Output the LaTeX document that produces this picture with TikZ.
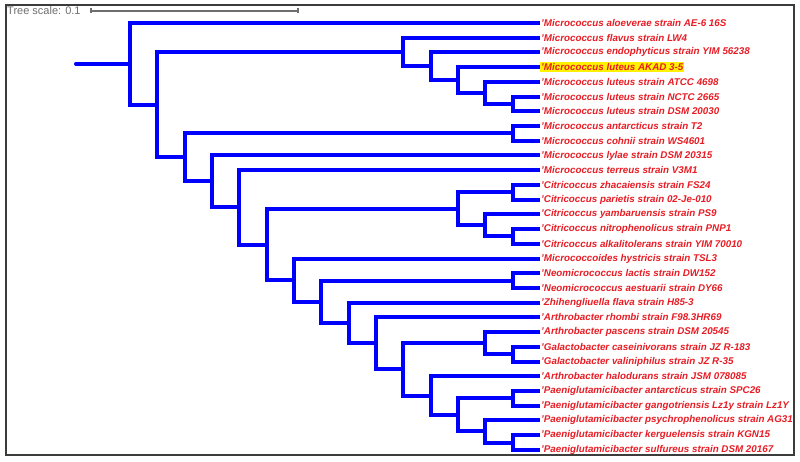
\documentclass[tikz,border=0pt]{standalone}
\usepackage{fontspec}
\setmainfont{Liberation Sans}
\usetikzlibrary{calc}
\definecolor{taxred}{RGB}{232,28,36}
\definecolor{treeblue}{RGB}{0,0,255}
\definecolor{scalegray}{RGB}{110,110,110}
\definecolor{framegray}{RGB}{60,60,60}
\tikzset{
  branch/.style={treeblue,line width=4pt},
  taxon/.style={anchor=west,inner xsep=1pt,inner ysep=1.5pt,text=taxred,font=\fontsize{9.8}{11}\selectfont\bfseries\itshape},
  plain/.style={},
  hl/.style={fill=yellow},
  scalebar/.style={scalegray,line width=1.2pt},
}
% clade: name, depth, upper child, lower child
\newcommand{\clade}[4]{%
  \path ($(#3)!.5!(#4)$) coordinate (mid);
  \coordinate (#1) at ({130+#2*27.33},0 |- mid);
  \draw[branch] (#3) -| (#1) |- (#4);
}
\begin{document}
\begin{tikzpicture}[x=1pt,y=-1pt]
\useasboundingbox (0,0) rectangle (800,462);
\draw[framegray,line width=2pt] (6,5) rectangle (794,455);
% tree scale
\node[anchor=west,inner sep=0pt,text=scalegray,font=\fontsize{11}{12}\selectfont] (scale) at (7,11) {Tree scale: 0.1};
\coordinate (sbl) at (91,11);
\coordinate (sbm) at (194.5,11);
\coordinate (sbr) at (298,11);
\draw[scalebar] (sbl) -- (sbr);
\draw[scalebar] ($(sbl)+(0,-2.5)$) -- ($(sbl)+(0,2.5)$);
\draw[scalebar] ($(sbr)+(0,-2.5)$) -- ($(sbr)+(0,2.5)$);
\draw[scalegray,line width=0.8pt] ($(sbm)+(0,-1)$) -- ($(sbm)+(0,1)$);
% leaves
\foreach \taxname/\sty [count=\i] in {
  Micrococcus aloeverae strain AE-6 16S/plain,
  Micrococcus flavus strain LW4/plain,
  Micrococcus endophyticus strain YIM 56238/plain,
  Micrococcus luteus AKAD 3-5/hl,
  Micrococcus luteus strain ATCC 4698/plain,
  Micrococcus luteus strain NCTC 2665/plain,
  Micrococcus luteus strain DSM 20030/plain,
  Micrococcus antarcticus strain T2/plain,
  Micrococcus cohnii strain WS4601/plain,
  Micrococcus lylae strain DSM 20315/plain,
  Micrococcus terreus strain V3M1/plain,
  Citricoccus zhacaiensis strain FS24/plain,
  Citricoccus parietis strain 02-Je-010/plain,
  Citricoccus yambaruensis strain PS9/plain,
  Citricoccus nitrophenolicus strain PNP1/plain,
  Citricoccus alkalitolerans strain YIM 70010/plain,
  Micrococcoides hystricis strain TSL3/plain,
  Neomicrococcus lactis strain DW152/plain,
  Neomicrococcus aestuarii strain DY66/plain,
  Zhihengliuella flava strain H85-3/plain,
  Arthrobacter rhombi strain F98.3HR69/plain,
  Arthrobacter pascens strain DSM 20545/plain,
  Galactobacter caseinivorans strain JZ R-183/plain,
  Galactobacter valiniphilus strain JZ R-35/plain,
  Arthrobacter halodurans strain JSM 078085/plain,
  Paeniglutamicibacter antarcticus strain SPC26/plain,
  Paeniglutamicibacter gangotriensis Lz1y strain Lz1Y/plain,
  Paeniglutamicibacter psychrophenolicus strain AG31/plain,
  Paeniglutamicibacter kerguelensis strain KGN15/plain,
  Paeniglutamicibacter sulfureus strain DSM 20167/plain}{
  \coordinate (t\i) at (540,{23+(\i-1)*14.72});
  \node[taxon,\sty] (n\i) at (t\i) {'\taxname};
}
% micrococcus luteus group
\clade{c67}{14}{t6}{t7}
\clade{c5}{13}{t5}{c67}
\clade{c4}{12}{t4}{c5}
\clade{c3}{11}{t3}{c4}
\clade{lut}{10}{t2}{c3}
\clade{c89}{14}{t8}{t9}
% citricoccus
\clade{c1213}{14}{t12}{t13}
\clade{c1516}{14}{t15}{t16}
\clade{c14}{13}{t14}{c1516}
\clade{cit}{12}{c1213}{c14}
% arthrobacter and relatives
\clade{c1819}{14}{t18}{t19}
\clade{c2324}{14}{t23}{t24}
\clade{c22}{13}{t22}{c2324}
\clade{c2627}{14}{t26}{t27}
\clade{c2930}{14}{t29}{t30}
\clade{c28}{13}{t28}{c2930}
\clade{c26}{12}{c2627}{c28}
\clade{c25}{11}{t25}{c26}
\clade{nJ}{10}{c22}{c25}
\clade{nI}{9}{t21}{nJ}
\clade{nH}{8}{t20}{nI}
\clade{nG}{7}{c1819}{nH}
\clade{nF}{6}{t17}{nG}
\clade{nE}{5}{cit}{nF}
\clade{nD}{4}{t11}{nE}
\clade{nC}{3}{t10}{nD}
\clade{nB}{2}{c89}{nC}
\clade{nA}{1}{lut}{nB}
\clade{root}{0}{t1}{nA}
\coordinate (base) at (76,0 |- root);
\draw[branch,line cap=round] (base) -- (root);
\end{tikzpicture}
\end{document}
